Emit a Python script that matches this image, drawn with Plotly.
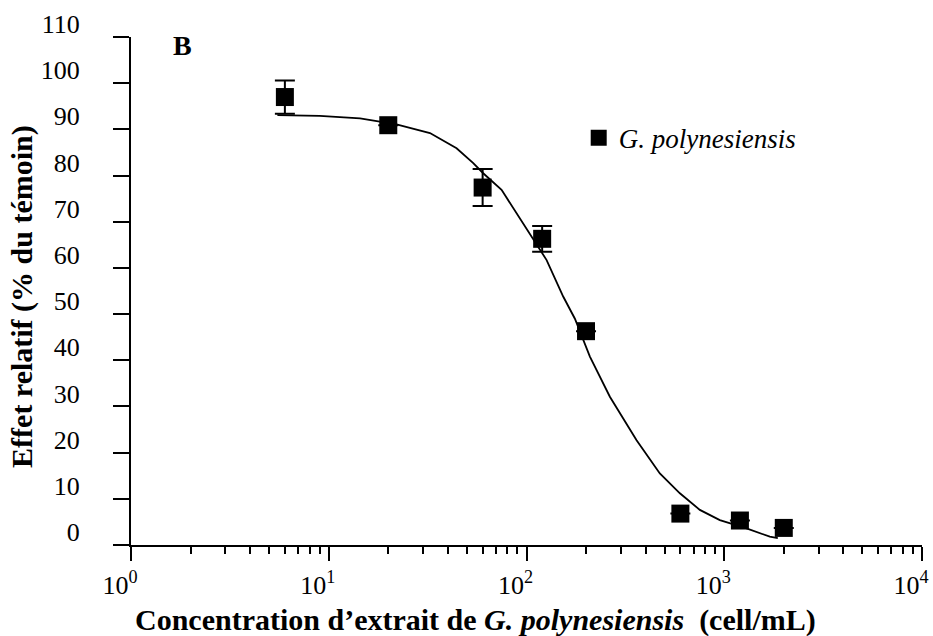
import plotly.graph_objects as go

# Measured data points (concentration in cell/mL, relative effect %)
conc = [6, 20, 60, 120, 200, 600, 1200, 2000]
effect = [97.0, 90.9, 77.4, 66.3, 46.3, 6.8, 5.3, 3.7]
err = [3.6, 0, 4.0, 2.8, 0, 0, 0, 0]

# Fitted curve
curve_conc = [5.5, 9, 14.4, 22, 32.5, 44.3, 53.8, 60.4, 74.8, 96.2, 126.4, 153.3,
              175.7, 209.2, 264, 360.3, 472.4, 596.5, 752.8, 950, 1296, 1700, 1866]
curve_eff = [93.1, 92.9, 92.4, 91.1, 89.2, 85.9, 82.7, 80.5, 76.9, 69.7, 61.7, 53.8,
             49.0, 40.8, 32.1, 22.7, 15.5, 11.2, 7.6, 5.4, 3.6, 1.8, 1.5]

y_ticks = [0, 10, 20, 30, 40, 50, 60, 70, 80, 90, 100, 110]
x_tickvals = [1, 10, 100, 1000, 10000]
x_ticktext = ["10<sup>0</sup>", "10<sup>1</sup>", "10<sup>2</sup>", "10<sup>3</sup>", "10<sup>4</sup>"]

FONT = "Liberation Serif"

fig = go.Figure()
fig.add_trace(go.Scatter(x=curve_conc, y=curve_eff, mode="lines",
                         line=dict(color="black", width=1.8), showlegend=False,
                         hoverinfo="skip"))
fig.add_trace(go.Scatter(x=conc, y=effect, mode="markers",
                         marker=dict(symbol="square", size=18, color="black"),
                         error_y=dict(type="data", array=err, visible=True,
                                      color="black", thickness=2, width=10),
                         name="<i>G. polynesiensis</i>", showlegend=True))

fig.update_layout(
    width=933, height=636,
    margin=dict(l=131, r=11, t=37, b=91, autoexpand=False),
    paper_bgcolor="white", plot_bgcolor="white",
    font=dict(family=FONT, color="black", size=25),
    showlegend=True,
    legend=dict(x=0.566, y=0.801, xanchor="left", yanchor="middle",
                font=dict(family=FONT, size=27, color="black"),
                bgcolor="rgba(0,0,0,0)", itemsizing="trace"),
    xaxis=dict(type="log", range=[0, 4], tickvals=x_tickvals, ticktext=x_ticktext,
               automargin=False,
               showline=True, linecolor="black", linewidth=2, showgrid=False,
               zeroline=False, ticks="outside", ticklen=14, tickwidth=2,
               tickcolor="black", ticklabelshift=-11, ticklabelstandoff=2,
               tickfont=dict(family=FONT, size=26),
               minor=dict(ticks="outside", ticklen=7, tickwidth=1.5,
                          tickcolor="black", dtick="D1", showgrid=False)),
    yaxis=dict(range=[0, 110], tickvals=y_ticks, showline=True, linecolor="black",
               automargin=False,
               linewidth=2, showgrid=False, zeroline=False, ticks="outside",
               ticklen=16, tickwidth=2, tickcolor="black",
               ticklabelstandoff=28, ticklabelshift=-13,
               tickfont=dict(family=FONT, size=26)),
)

fig.add_annotation(text="<b>B</b>", xref="paper", yref="paper", x=0.0657, y=0.984,
                   xanchor="center", yanchor="middle", showarrow=False,
                   font=dict(family=FONT, size=28, color="black"))

# Axis titles
fig.add_annotation(text="<b>Concentration d’extrait de <i>G. polynesiensis</i>  (cell/mL)</b>",
                   xref="paper", yref="paper", x=0.435, y=-0.148,
                   xanchor="center", yanchor="middle", showarrow=False,
                   font=dict(family=FONT, size=30, color="black"))
fig.add_annotation(text="<b>Effet relatif (% du témoin)</b>",
                   xref="paper", yref="paper", x=-0.138, y=0.49, textangle=-90,
                   xanchor="center", yanchor="middle", showarrow=False,
                   font=dict(family=FONT, size=30, color="black"))

fig.write_html("out.html", config={"displayModeBar": False},
               post_script="document.body.style.margin='0';document.body.style.overflow='hidden';")
